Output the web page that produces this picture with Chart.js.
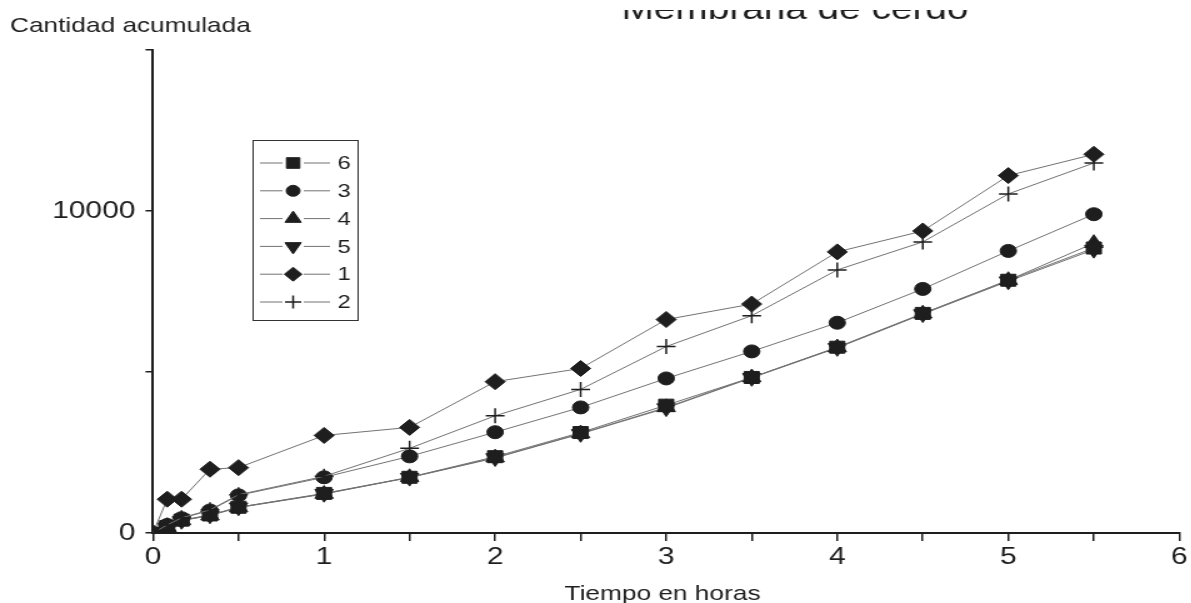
<!DOCTYPE html>
<html>
<head>
<meta charset="utf-8">
<script src="https://cdn.jsdelivr.net/npm/chart.js@4.4.1/dist/chart.umd.min.js"></script>
<style>
  html, body { margin: 0; padding: 0; background: #fff; overflow: hidden; }
  /* the plot is laid out narrow and stretched sideways */
  #wrap { width: 953px; height: 603px; transform: scaleX(1.25); transform-origin: 0 0; }
</style>
</head>
<body>
<div id="wrap"><canvas id="grafico"></canvas></div>
<script>
// sampling times (hours)
const horas = [0, 0.083, 0.167, 0.333, 0.5, 1, 1.5, 2, 2.5, 3, 3.5, 4, 4.5, 5, 5.5];

// accumulated amount per cell
const celda1 = [0, 1050, 1050, 1980, 2030, 3030, 3280, 4700, 5110, 6630, 7110, 8730, 9380, 11100, 11760];
const celda2 = [0, 250, 470, 720, 1190, 1760, 2630, 3640, 4460, 5790, 6750, 8170, 9040, 10530, 11490];
const celda3 = [0, 250, 460, 700, 1170, 1730, 2380, 3130, 3900, 4800, 5640, 6530, 7580, 8760, 9900];
const celda4 = [0, 180, 390, 540, 790, 1210, 1730, 2340, 3090, 3900, 4830, 5760, 6810, 7850, 9000];
const celda5 = [0, 180, 380, 550, 800, 1220, 1720, 2330, 3080, 3880, 4820, 5750, 6800, 7820, 8800];
const celda6 = [0, 200, 400, 560, 800, 1230, 1730, 2370, 3120, 3970, 4830, 5770, 6820, 7850, 8850];

const ordenLeyenda = ['6', '3', '4', '5', '1', '2'];
const ticksY = [0, 10000];

const FUENTE = '"Liberation Sans", Arial, sans-serif';
const TINTA = '#1e1e1e';

function serie(label, valores, estilo, radio, rotacion) {
    return {
        label: label,
        data: horas.map((h, i) => ({ x: h, y: valores[i] })),
        borderColor: '#727272',
        borderWidth: 1,
        pointStyle: estilo,
        pointRadius: radio,
        pointRotation: rotacion || 0,
        pointBackgroundColor: TINTA,
        pointBorderColor: TINTA,
        pointBorderWidth: estilo === 'cross' ? 1.5 : 1,
        tension: 0
    };
}

const datasets = [
    serie('1', celda1, 'rectRot', 8),
    serie('2', celda2, 'cross', 7.5),
    serie('3', celda3, 'circle', 6.5),
    serie('6', celda6, 'rect', 8.5),
    serie('4', celda4, 'triangle', 8.5),
    serie('5', celda5, 'triangle', 8.5, 180)
];

// titles, axis names and the boxed key
const rotulos = {
    id: 'rotulos',
    afterDraw(chart) {
        const ctx = chart.ctx;
        ctx.save();
        ctx.fillStyle = TINTA;
        ctx.textBaseline = 'alphabetic';

        ctx.font = '21px ' + FUENTE;
        ctx.textAlign = 'left';
        ctx.fillText('Cantidad acumulada', 8, 32);

        ctx.font = '21px ' + FUENTE;
        ctx.textAlign = 'center';
        ctx.fillText('Tiempo en horas', 530, 600);

        // heading sits partly above the top edge
        ctx.save();
        ctx.beginPath();
        ctx.rect(0, 10, chart.width, 40);
        ctx.clip();
        ctx.font = '31px ' + FUENTE;
        ctx.fillText('Membrana de cerdo', 636, 19);
        ctx.restore();

        // key
        ctx.strokeStyle = '#333';
        ctx.lineWidth = 1;
        ctx.strokeRect(202.5, 140.5, 84, 180);
        ordenLeyenda.forEach((nombre, i) => {
            const ds = chart.data.datasets.find(d => d.label === nombre);
            const y = 163 + i * 27.8;
            ctx.strokeStyle = '#727272';
            ctx.lineWidth = 1;
            ctx.beginPath();
            ctx.moveTo(208, y); ctx.lineTo(226, y);
            ctx.moveTo(243, y); ctx.lineTo(264, y);
            ctx.stroke();
            ctx.fillStyle = TINTA;
            ctx.strokeStyle = TINTA;
            ctx.lineWidth = ds.pointBorderWidth;
            Chart.helpers.drawPoint(ctx, {
                pointStyle: ds.pointStyle,
                radius: ds.pointRadius - 1,
                rotation: ds.pointRotation,
                borderWidth: ds.pointBorderWidth
            }, 234.5, y);
            ctx.font = '19px ' + FUENTE;
            ctx.textAlign = 'left';
            ctx.textBaseline = 'middle';
            ctx.fillText(nombre, 270, y + 1);
        });
        ctx.restore();
    }
};

new Chart(document.getElementById('grafico'), {
    type: 'line',
    data: { datasets: datasets },
    options: {
        responsive: true,
        maintainAspectRatio: false,
        animation: false,
        devicePixelRatio: 1,
        layout: { padding: { left: 0, top: 50, right: 8, bottom: 0 } },
        plugins: { legend: { display: false }, tooltip: { enabled: false } },
        scales: {
            x: {
                type: 'linear',
                min: 0,
                max: 6,
                ticks: {
                    stepSize: 0.5,
                    autoSkip: false,
                    maxRotation: 0,
                    padding: 2,
                    color: TINTA,
                    font: { size: 24, family: FUENTE },
                    callback: v => Number.isInteger(v) ? String(v) : ''
                },
                grid: { drawOnChartArea: false, drawTicks: true, tickLength: 8, color: TINTA, lineWidth: 1.5 },
                border: { display: true, color: TINTA, width: 2 },
                afterFit: s => { s.height = 70; }
            },
            y: {
                type: 'linear',
                min: 0,
                max: 15000,
                ticks: {
                    stepSize: 5000,
                    padding: 8,
                    color: TINTA,
                    font: { size: 24, family: FUENTE },
                    callback: v => ticksY.includes(v) ? String(v) : ''
                },
                grid: { drawOnChartArea: false, drawTicks: true, tickLength: 6, color: TINTA, lineWidth: 1.5 },
                border: { display: true, color: TINTA, width: 2 },
                afterFit: s => { s.width = 122.4; }
            }
        }
    },
    plugins: [rotulos]
});
</script>
</body>
</html>
